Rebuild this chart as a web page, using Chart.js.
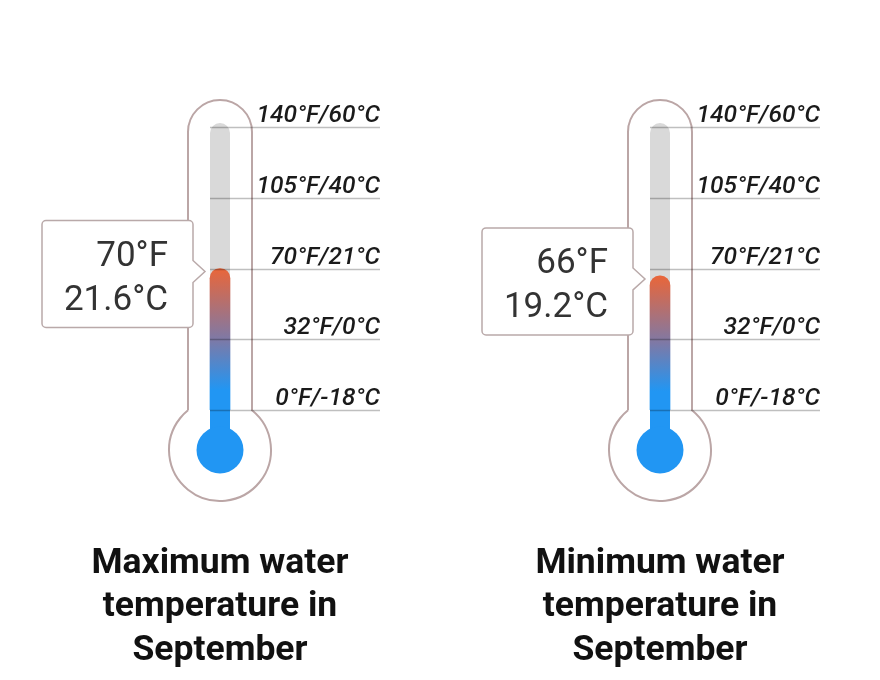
<!DOCTYPE html>
<html>
<head>
<meta charset="utf-8">
<script src="https://cdn.jsdelivr.net/npm/chart.js@4.4.1/dist/chart.umd.min.js"></script>
<style>
  html, body { margin: 0; padding: 0; background: #ffffff; }
  #wrap { width: 880px; height: 680px; }
  canvas { display: block; }
</style>
</head>
<body>
<div id="wrap"><canvas id="c" width="880" height="680"></canvas></div>
<script>
// ---- data ----
const categories = ['Maximum water temperature in September', 'Minimum water temperature in September'];
const titleLines = [
  ['Maximum water', 'temperature in', 'September'],
  ['Minimum water', 'temperature in', 'September']
];
const valuesF = [70, 66];
const valuesC = [21.6, 19.2];
const tickValuesF = [0, 32, 70, 105, 140];
const tickLabels = ['0°F/-18°C', '32°F/0°C', '70°F/21°C', '105°F/40°C', '140°F/60°C'];

// ---- scale with equally spaced ticks (piecewise linear between tick values) ----
class ThermoScale extends Chart.LinearScale {
  _frac(value) {
    const t = tickValuesF, n = t.length - 1;
    let i = 0;
    if (value <= t[0]) i = 0;
    else if (value >= t[n]) i = n - 1;
    else { while (value > t[i + 1]) i++; }
    return (i + (value - t[i]) / (t[i + 1] - t[i])) / n;
  }
  getPixelForValue(value) {
    return this.bottom - this._frac(value) * (this.bottom - this.top);
  }
  getValueForPixel(px) {
    const t = tickValuesF, n = t.length - 1;
    let f = (this.bottom - px) / (this.bottom - this.top) * n;
    let i = Math.max(0, Math.min(n - 1, Math.floor(f)));
    return t[i] + (f - i) * (t[i + 1] - t[i]);
  }
}
ThermoScale.id = 'thermo';
ThermoScale.defaults = Chart.LinearScale.defaults;
Chart.register(ThermoScale);

const OUTLINE = '#bba6a6';
const FONT = 'Roboto, "Noto Sans", sans-serif';

function fillGradient(context) {
  const chart = context.chart;
  if (!chart.chartArea) return '#2196F3';
  const y = chart.scales.y;
  const v = context.raw;
  const top = y.getPixelForValue(v);
  const bot = y.getPixelForValue(tickValuesF[0]);
  const g = chart.ctx.createLinearGradient(0, top, 0, bot);
  g.addColorStop(0, '#E9663A');
  g.addColorStop(0.5, '#7E79A6');
  g.addColorStop(0.86, '#2196F3');
  g.addColorStop(1, '#2196F3');
  return g;
}

const thermoPlugin = {
  id: 'thermo',
  beforeDatasetsDraw(chart) {
    const ctx = chart.ctx;
    const y = chart.scales.y;
    const meta = chart.getDatasetMeta(0);
    const yTop = y.getPixelForValue(tickValuesF[tickValuesF.length - 1]);
    const yBot = y.getPixelForValue(tickValuesF[0]);
    meta.data.forEach((bar) => {
      const cx = bar.x;
      const half = 32, bulbR = 51, bulbCy = yBot + 40;
      const tubeTopC = yTop + 5;
      const dy = Math.sqrt(bulbR * bulbR - half * half);
      const a = Math.atan2(-dy, half);
      ctx.save();
      // outline
      ctx.beginPath();
      ctx.moveTo(cx - half, bulbCy - dy);
      ctx.lineTo(cx - half, tubeTopC);
      ctx.arc(cx, tubeTopC, half, Math.PI, 0, false);
      ctx.lineTo(cx + half, bulbCy - dy);
      ctx.arc(cx, bulbCy, bulbR, a, Math.PI - a, false);
      ctx.strokeStyle = OUTLINE;
      ctx.lineWidth = 2;
      ctx.stroke();
      // gray tube
      ctx.beginPath();
      ctx.moveTo(cx - 10, yBot);
      ctx.lineTo(cx - 10, yTop + 6);
      ctx.arc(cx, yTop + 6, 10, Math.PI, 0, false);
      ctx.lineTo(cx + 10, yBot);
      ctx.closePath();
      ctx.fillStyle = '#d9d9d9';
      ctx.fill();
      // blue stem and bulb
      ctx.fillStyle = '#2196F3';
      ctx.fillRect(cx - 10, yBot - 0.5, 20, bulbCy - yBot + 0.5);
      ctx.beginPath();
      ctx.arc(cx, bulbCy, 23.5, 0, Math.PI * 2);
      ctx.fill();
      ctx.restore();
    });
  },
  afterDatasetsDraw(chart) {
    const ctx = chart.ctx;
    const y = chart.scales.y;
    const meta = chart.getDatasetMeta(0);
    meta.data.forEach((bar, idx) => {
      const cx = bar.x;
      ctx.save();
      // tick lines and labels
      tickValuesF.forEach((tv, i) => {
        const py = Math.round(y.getPixelForValue(tv)) + 0.5;
        ctx.beginPath();
        ctx.moveTo(cx - 10, py);
        ctx.lineTo(cx + 160, py);
        ctx.strokeStyle = 'rgba(0,0,0,0.25)';
        ctx.lineWidth = 1.5;
        ctx.stroke();
        ctx.fillStyle = '#1a1a1a';
        ctx.font = 'italic 500 24.5px ' + FONT;
        ctx.textAlign = 'right';
        ctx.textBaseline = 'alphabetic';
        ctx.fillText(tickLabels[i], cx + 160, py - 5.5);
      });
      // callout
      const vp = y.getPixelForValue(valuesF[idx]);
      const bw = 151, bh = 107, r = 4;
      const right = cx - 27, left = right - bw;
      const cy = vp + 5.5;
      const top = cy - bh / 2, bottom = cy + bh / 2;
      const tipY = cy - 2.5, tipX = cx - 15;
      ctx.beginPath();
      ctx.moveTo(left + r, top);
      ctx.lineTo(right - r, top);
      ctx.arcTo(right, top, right, top + r, r);
      ctx.lineTo(right, tipY - 11);
      ctx.lineTo(tipX, tipY);
      ctx.lineTo(right, tipY + 11);
      ctx.lineTo(right, bottom - r);
      ctx.arcTo(right, bottom, right - r, bottom, r);
      ctx.lineTo(left + r, bottom);
      ctx.arcTo(left, bottom, left, bottom - r, r);
      ctx.lineTo(left, top + r);
      ctx.arcTo(left, top, left + r, top, r);
      ctx.closePath();
      ctx.fillStyle = '#ffffff';
      ctx.fill();
      ctx.strokeStyle = '#b9a9a9';
      ctx.lineWidth = 1.5;
      ctx.stroke();
      ctx.fillStyle = '#333333';
      ctx.font = '35px ' + FONT;
      ctx.textAlign = 'right';
      ctx.textBaseline = 'alphabetic';
      ctx.fillText(valuesF[idx] + '°F', right - 25, top + 45.5);
      ctx.fillText(valuesC[idx].toFixed(1) + '°C', right - 25, top + 89);
      // title
      ctx.fillStyle = '#111111';
      ctx.font = 'bold 35.5px ' + FONT;
      ctx.textAlign = 'center';
      titleLines[idx].forEach((line, k) => {
        ctx.fillText(line, cx, 573 + k * 43.3);
      });
      ctx.restore();
    });
  }
};

new Chart(document.getElementById('c'), {
  type: 'bar',
  data: {
    labels: categories,
    datasets: [{
      data: valuesF,
      backgroundColor: fillGradient,
      barThickness: 20,
      borderWidth: 0,
      borderRadius: { topLeft: 10, topRight: 10, bottomLeft: 0, bottomRight: 0 },
      borderSkipped: 'start'
    }]
  },
  options: {
    responsive: false,
    devicePixelRatio: 1,
    animation: false,
    layout: { padding: { top: 127, bottom: 270, left: 0, right: 0 } },
    plugins: { legend: { display: false }, tooltip: { enabled: false } },
    scales: {
      x: { type: 'category', display: false },
      y: { type: 'thermo', display: false, min: 0, max: 140 }
    }
  },
  plugins: [thermoPlugin]
});
</script>
</body>
</html>
